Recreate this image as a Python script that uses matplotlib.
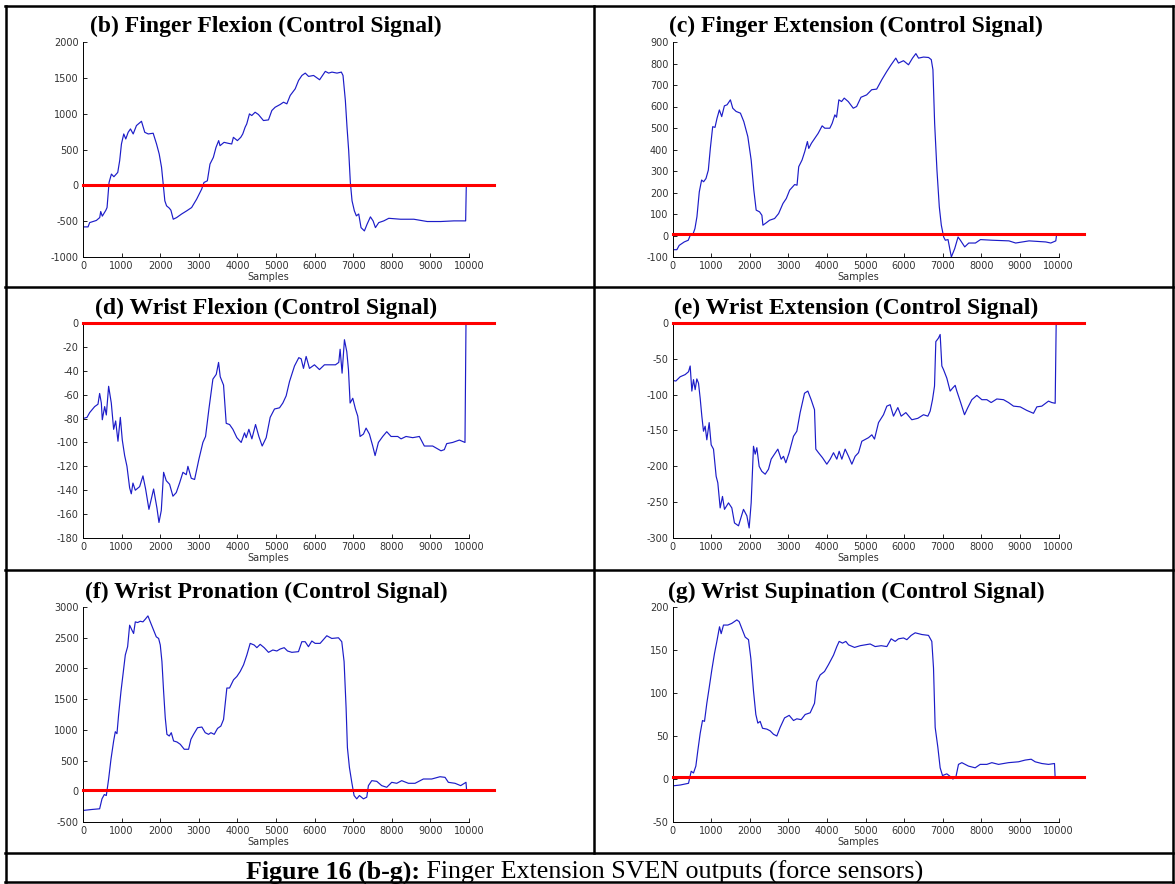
import numpy as np
import matplotlib.pyplot as plt
from matplotlib.lines import Line2D

W, H = 1175, 884

# control signals: sample index / value pairs
fflex_x = [0, 130, 173, 346, 433, 459, 500, 590, 623, 675, 736, 800, 900, 950, 996, 1056, 1108, 1170, 1230, 1300,
           1385, 1515, 1600, 1690, 1818, 1905, 1974, 2035, 2078, 2120, 2165, 2235, 2277, 2338, 2425, 2555, 2684, 2814,
           2944, 3074, 3134, 3221, 3290, 3377, 3446, 3515, 3550, 3654, 3766, 3853, 3896, 4000, 4087, 4139, 4200, 4242,
           4312, 4372, 4459, 4545, 4675, 4805, 4892, 4978, 5108, 5195, 5281, 5368, 5498, 5584, 5671, 5758, 5844, 5974,
           6130, 6277, 6364, 6450, 6580, 6693, 6736, 6797, 6840, 6883, 6926, 6970, 7030, 7082, 7143, 7203, 7290, 7359,
           7446, 7515, 7576, 7662, 7792, 7922, 8225, 8571, 8918, 9264, 9610, 9913, 9930]
fflex_y = [-580, -580, -520, -490, -450, -365, -430, -350, -310, 40, 157, 120, 180, 344, 577, 717, 647, 740, 787, 717,
           834, 894, 740, 717, 727, 577, 437, 250, 17, -216, -286, -318, -347, -473, -450, -400, -357, -310,
           -193, -53, 40, 63, 297, 390, 530, 624, 553, 600, 586, 577, 670, 624, 670, 717, 811, 857,
           997, 974, 1020, 988, 904, 913, 1044, 1090, 1128, 1160, 1137, 1254, 1347, 1463, 1533, 1566, 1520, 1533,
           1473, 1590, 1566, 1580, 1566, 1580, 1533, 1183, 810, 484, 40, -216, -356, -426, -400, -590, -636, -543,
           -440, -496, -590, -520, -496, -460, -473, -473, -505, -505, -496, -496, 0]

fext_x = [0, 113, 173, 304, 408, 460, 520, 581, 633, 694, 754, 806, 867, 928, 980, 1041, 1101, 1153, 1214, 1275,
          1344, 1414, 1500, 1561, 1648, 1760, 1847, 1951, 2038, 2107, 2168, 2255, 2316, 2342, 2428, 2515, 2645, 2749,
          2862, 2948, 3035, 3165, 3226, 3270, 3356, 3426, 3495, 3530, 3599, 3686, 3773, 3877, 3946, 4076, 4137, 4206,
          4250, 4310, 4380, 4449, 4553, 4683, 4770, 4883, 5030, 5160, 5290, 5420, 5551, 5663, 5785, 5854, 5984, 6114,
          6218, 6305, 6374, 6504, 6634, 6704, 6747, 6791, 6851, 6912, 6964, 7025, 7068, 7138, 7224, 7311, 7398, 7458,
          7571, 7675, 7848, 7979, 8283, 8716, 8890, 9237, 9670, 9800, 9930, 9948]
fext_y = [-66, -66, -46, -30, -22, 1, 1, 32, 87, 203, 258, 250, 265, 304, 405, 506, 503, 545, 584, 553,
          603, 608, 631, 592, 577, 569, 530, 460, 351, 211, 118, 110, 94, 48, 59, 71, 79, 102,
          149, 172, 211, 237, 234, 320, 351, 390, 437, 405, 429, 452, 475, 510, 499, 499, 522, 561,
          550, 631, 623, 639, 623, 592, 600, 643, 654, 678, 681, 724, 763, 794, 825, 802, 813, 794,
          825, 846, 825, 830, 828, 818, 771, 522, 304, 133, 48, -7, -22, -19, -100, -61, -7, -22,
          -53, -35, -35, -19, -22, -25, -35, -25, -30, -35, -25, 1]

wflex_x = [0, 104, 173, 302, 388, 431, 475, 500, 561, 604, 664, 733, 794, 846, 906, 967, 1018, 1079, 1139, 1208,
           1251, 1294, 1355, 1467, 1553, 1622, 1708, 1829, 1916, 1968, 2028, 2088, 2157, 2243, 2330, 2416, 2502, 2589,
           2675, 2718, 2805, 2891, 3003, 3106, 3175, 3262, 3365, 3452, 3512, 3555, 3641, 3710, 3797, 3883, 3986, 4098,
           4185, 4228, 4297, 4375, 4470, 4556, 4642, 4746, 4849, 4961, 5091, 5177, 5263, 5350, 5479, 5591, 5652, 5712,
           5781, 5867, 5996, 6126, 6255, 6385, 6540, 6626, 6661, 6712, 6773, 6834, 6877, 6920, 6989, 7058, 7118, 7178,
           7265, 7334, 7420, 7506, 7567, 7653, 7765, 7869, 7981, 8154, 8240, 8369, 8542, 8714, 8843, 9059, 9275, 9361,
           9422, 9577, 9750, 9896, 9922]
wflex_y = [-80, -79, -75, -70, -68, -59, -67, -81, -70, -77, -53, -67, -89, -82, -99, -79, -98, -111, -120, -138,
           -143, -134, -140, -137, -128, -139, -156, -139, -155, -167, -157, -125, -132, -135, -145, -142, -134, -125,
           -127, -120, -130, -131, -114, -100, -95, -72, -47, -43, -33, -45, -52, -84, -85, -89, -96, -100,
           -92, -96, -89, -97, -85, -95, -103, -96, -79, -72, -71, -67, -61, -49, -36, -29, -30, -38,
           -28, -38, -35, -39, -35, -35, -35, -33, -22, -42, -14, -24, -39, -67, -63, -72, -78, -95,
           -93, -88, -93, -103, -111, -100, -95, -91, -95, -95, -97, -95, -96, -95, -103, -103, -107, -106,
           -101, -100, -98, -100, 0]

wext_x = [0, 86, 199, 328, 415, 458, 501, 544, 587, 630, 674, 717, 760, 803, 846, 889, 950, 1002, 1062, 1131,
          1174, 1235, 1295, 1347, 1451, 1537, 1606, 1710, 1839, 1926, 1986, 2038, 2098, 2142, 2185, 2245, 2314, 2401,
          2487, 2556, 2642, 2729, 2815, 2876, 2936, 3022, 3135, 3221, 3307, 3420, 3506, 3592, 3679, 3713, 3782, 3886,
          3998, 4085, 4171, 4257, 4318, 4387, 4473, 4560, 4646, 4732, 4819, 4905, 5078, 5164, 5233, 5337, 5466, 5553,
          5639, 5725, 5838, 5924, 6045, 6200, 6356, 6503, 6615, 6675, 6736, 6788, 6822, 6891, 6934, 6978, 7021, 7107,
          7193, 7254, 7323, 7366, 7453, 7565, 7651, 7755, 7884, 8014, 8143, 8256, 8402, 8575, 8705, 8834, 9007, 9180,
          9352, 9439, 9568, 9741, 9827, 9914, 9940]
wext_y = [-80, -81, -75, -72, -68, -60, -95, -79, -93, -78, -84, -105, -130, -151, -144, -163, -139, -170, -176, -214,
          -223, -258, -242, -260, -251, -258, -279, -283, -260, -269, -286, -251, -172, -183, -174, -200, -207, -211,
          -204, -190, -183, -176, -190, -186, -195, -181, -158, -151, -125, -98, -95, -107, -121, -176, -181, -188,
          -197, -190, -181, -190, -179, -190, -176, -186, -197, -186, -181, -165, -160, -156, -162, -139, -128, -116,
          -114, -130, -118, -130, -125, -135, -133, -128, -130, -123, -107, -88, -26, -21, -16, -60, -65, -77,
          -95, -91, -87, -95, -109, -128, -118, -107, -101, -107, -107, -111, -106, -107, -111, -116, -117, -122,
          -126, -117, -116, -109, -111, -112, 0]

wpro_x = [0, 233, 431, 492, 552, 604, 664, 725, 794, 837, 880, 923, 984, 1035, 1096, 1156, 1208, 1268, 1311, 1355,
          1415, 1484, 1553, 1613, 1682, 1760, 1829, 1898, 1959, 2002, 2045, 2088, 2131, 2174, 2235, 2287, 2347, 2433,
          2520, 2623, 2735, 2796, 2865, 2968, 3080, 3166, 3253, 3313, 3400, 3486, 3572, 3641, 3727, 3796, 3900, 3986,
          4072, 4159, 4245, 4331, 4435, 4504, 4590, 4694, 4806, 4918, 5022, 5108, 5212, 5298, 5410, 5582, 5669, 5755,
          5841, 5928, 6014, 6143, 6316, 6445, 6618, 6704, 6764, 6816, 6850, 6902, 6963, 7023, 7092, 7161, 7265, 7351,
          7394, 7481, 7610, 7739, 7869, 7998, 8128, 8257, 8430, 8602, 8818, 9034, 9249, 9379, 9465, 9638, 9784, 9922,
          9940]
wpro_y = [-312, -296, -285, -123, -53, -69, 200, 523, 819, 970, 938, 1250, 1627, 1896, 2219, 2354, 2704, 2623, 2569,
          2758, 2747, 2768, 2758, 2801, 2855, 2731, 2623, 2515, 2488, 2381, 2111, 1627, 1196, 927, 900, 954, 819, 803,
          765, 684, 684, 846, 927, 1035, 1046, 954, 927, 954, 927, 1024, 1062, 1169, 1681, 1681, 1815, 1869,
          1950, 2058, 2219, 2408, 2381, 2338, 2392, 2338, 2262, 2300, 2284, 2316, 2338, 2284, 2262, 2273, 2435, 2435,
          2354, 2446, 2408, 2408, 2532, 2488, 2499, 2435, 2111, 1358, 711, 388, 146, -69, -123, -69, -123, -96,
          92, 173, 162, 92, 65, 146, 130, 173, 130, 130, 200, 200, 237, 227, 146, 130, 92, 146,
          0]

wsup_x = [0, 199, 415, 484, 544, 605, 656, 717, 777, 829, 889, 950, 1019, 1088, 1149, 1218, 1261, 1321, 1434, 1537,
          1667, 1727, 1796, 1883, 1969, 2030, 2099, 2159, 2211, 2271, 2332, 2444, 2530, 2617, 2703, 2789, 2902, 3023,
          3135, 3221, 3333, 3437, 3567, 3679, 3739, 3826, 3938, 4041, 4171, 4257, 4318, 4404, 4490, 4560, 4715, 4862,
          4991, 5121, 5250, 5406, 5553, 5665, 5769, 5855, 5985, 6071, 6183, 6287, 6459, 6632, 6718, 6762, 6805, 6874,
          6934, 6995, 7107, 7193, 7263, 7340, 7409, 7496, 7668, 7841, 7971, 8143, 8273, 8446, 8705, 8964, 9136, 9292,
          9396, 9568, 9741, 9896, 9914]
wsup_y = [-8, -7, -5, 9, 7, 15, 33, 53, 68, 67, 88, 106, 127, 146, 160, 177, 169, 179, 179, 181,
          185, 183, 175, 165, 162, 140, 102, 75, 65, 67, 59, 58, 56, 52, 50, 60, 71, 74,
          68, 70, 69, 75, 77, 88, 113, 121, 125, 133, 144, 154, 160, 158, 160, 156, 153, 155,
          156, 157, 154, 155, 154, 163, 160, 163, 164, 162, 167, 170, 168, 167, 160, 129, 60, 37,
          13, 4, 6, 3, 0, 2, 17, 19, 15, 13, 17, 17, 19, 17, 19, 20, 22, 23,
          20, 18, 17, 18, 1]

titles = ['(b) Finger Flexion (Control Signal)', '(c) Finger Extension (Control Signal)',
          '(d) Wrist Flexion (Control Signal)', '(e) Wrist Extension (Control Signal)',
          '(f) Wrist Pronation (Control Signal)', '(g) Wrist Supination (Control Signal)']
y_limits = [(-1000, 2000), (-100, 900), (-180, 0), (-300, 0), (-500, 3000), (-50, 200)]
y_steps = [500, 100, 20, 50, 500, 50]
thresholds = [0, 5, 0, 0, 20, 2]
threshold_span = [0, 10650]
x_ticks = list(range(0, 10001, 1000))

signals = [(fflex_x, fflex_y), (fext_x, fext_y), (wflex_x, wflex_y),
           (wext_x, wext_y), (wpro_x, wpro_y), (wsup_x, wsup_y)]

plt.rcParams['axes.unicode_minus'] = False


def fx(px):
    return px / W


def fy(py):
    return 1 - py / H


fig = plt.figure(figsize=(W / 100, H / 100), dpi=100)

col_left = [83, 672.5]
row_top = [42, 323, 607]
ax_w, ax_h = 386, 215
title_cx = [266, 856]
title_base = [32, 314, 598]

for i, (xs, ys) in enumerate(signals):
    r, c = divmod(i, 2)
    ax = fig.add_axes([fx(col_left[c]), fy(row_top[r] + ax_h), ax_w / W, ax_h / H])
    ax.plot(xs, ys, color='#1c1cc8', lw=0.85)
    ax.plot(threshold_span, [thresholds[i]] * 2, color='#ff0000', lw=2.2, clip_on=False, zorder=3)
    lo, hi = y_limits[i]
    ax.set_xlim(0, 10000)
    ax.set_ylim(lo, hi)
    ax.set_xticks(x_ticks)
    ax.set_yticks(np.arange(lo, hi + 1, y_steps[i]))
    ax.tick_params(direction='in', length=3, width=0.6, labelsize=7, labelcolor='#333333', pad=3)
    for s in ['top', 'right']:
        ax.spines[s].set_visible(False)
    for s in ['left', 'bottom']:
        ax.spines[s].set_linewidth(0.7)
    ax.set_xlabel('Samples', fontsize=7, color='#333333')
    ax.xaxis.set_label_coords(0.48, -0.07)
    fig.text(fx(title_cx[c]), fy(title_base[r]), titles[i], ha='center', va='baseline',
             fontsize=17, fontweight='bold', family='Liberation Serif')

# table grid around the panels
lw_grid = 1.8
for y in [6, 287, 570, 853, 882]:
    fig.add_artist(Line2D([fx(5), fx(1173)], [fy(y), fy(y)], color='black', lw=lw_grid))
for x, y_end in [(5.5, 882), (594, 853), (1172.5, 882)]:
    fig.add_artist(Line2D([fx(x), fx(x)], [fy(6), fy(y_end)], color='black', lw=lw_grid))

# caption: bold label followed by regular text
cap_b = fig.text(0, fy(879), 'Figure 16 (b-g):', fontsize=18.7, fontweight='bold',
                 family='Liberation Serif', va='baseline')
cap_r = fig.text(0, fy(879), ' Finger Extension SVEN outputs (force sensors)', fontsize=18.7,
                 family='Liberation Serif', va='baseline')
fig.canvas.draw()
rend = fig.canvas.get_renderer()
wb = cap_b.get_window_extent(rend).width
wr = cap_r.get_window_extent(rend).width
x0 = 585 - (wb + wr) / 2
cap_b.set_x(fx(x0))
cap_r.set_x(fx(x0 + wb))

fig.savefig('out.png', dpi=100)
